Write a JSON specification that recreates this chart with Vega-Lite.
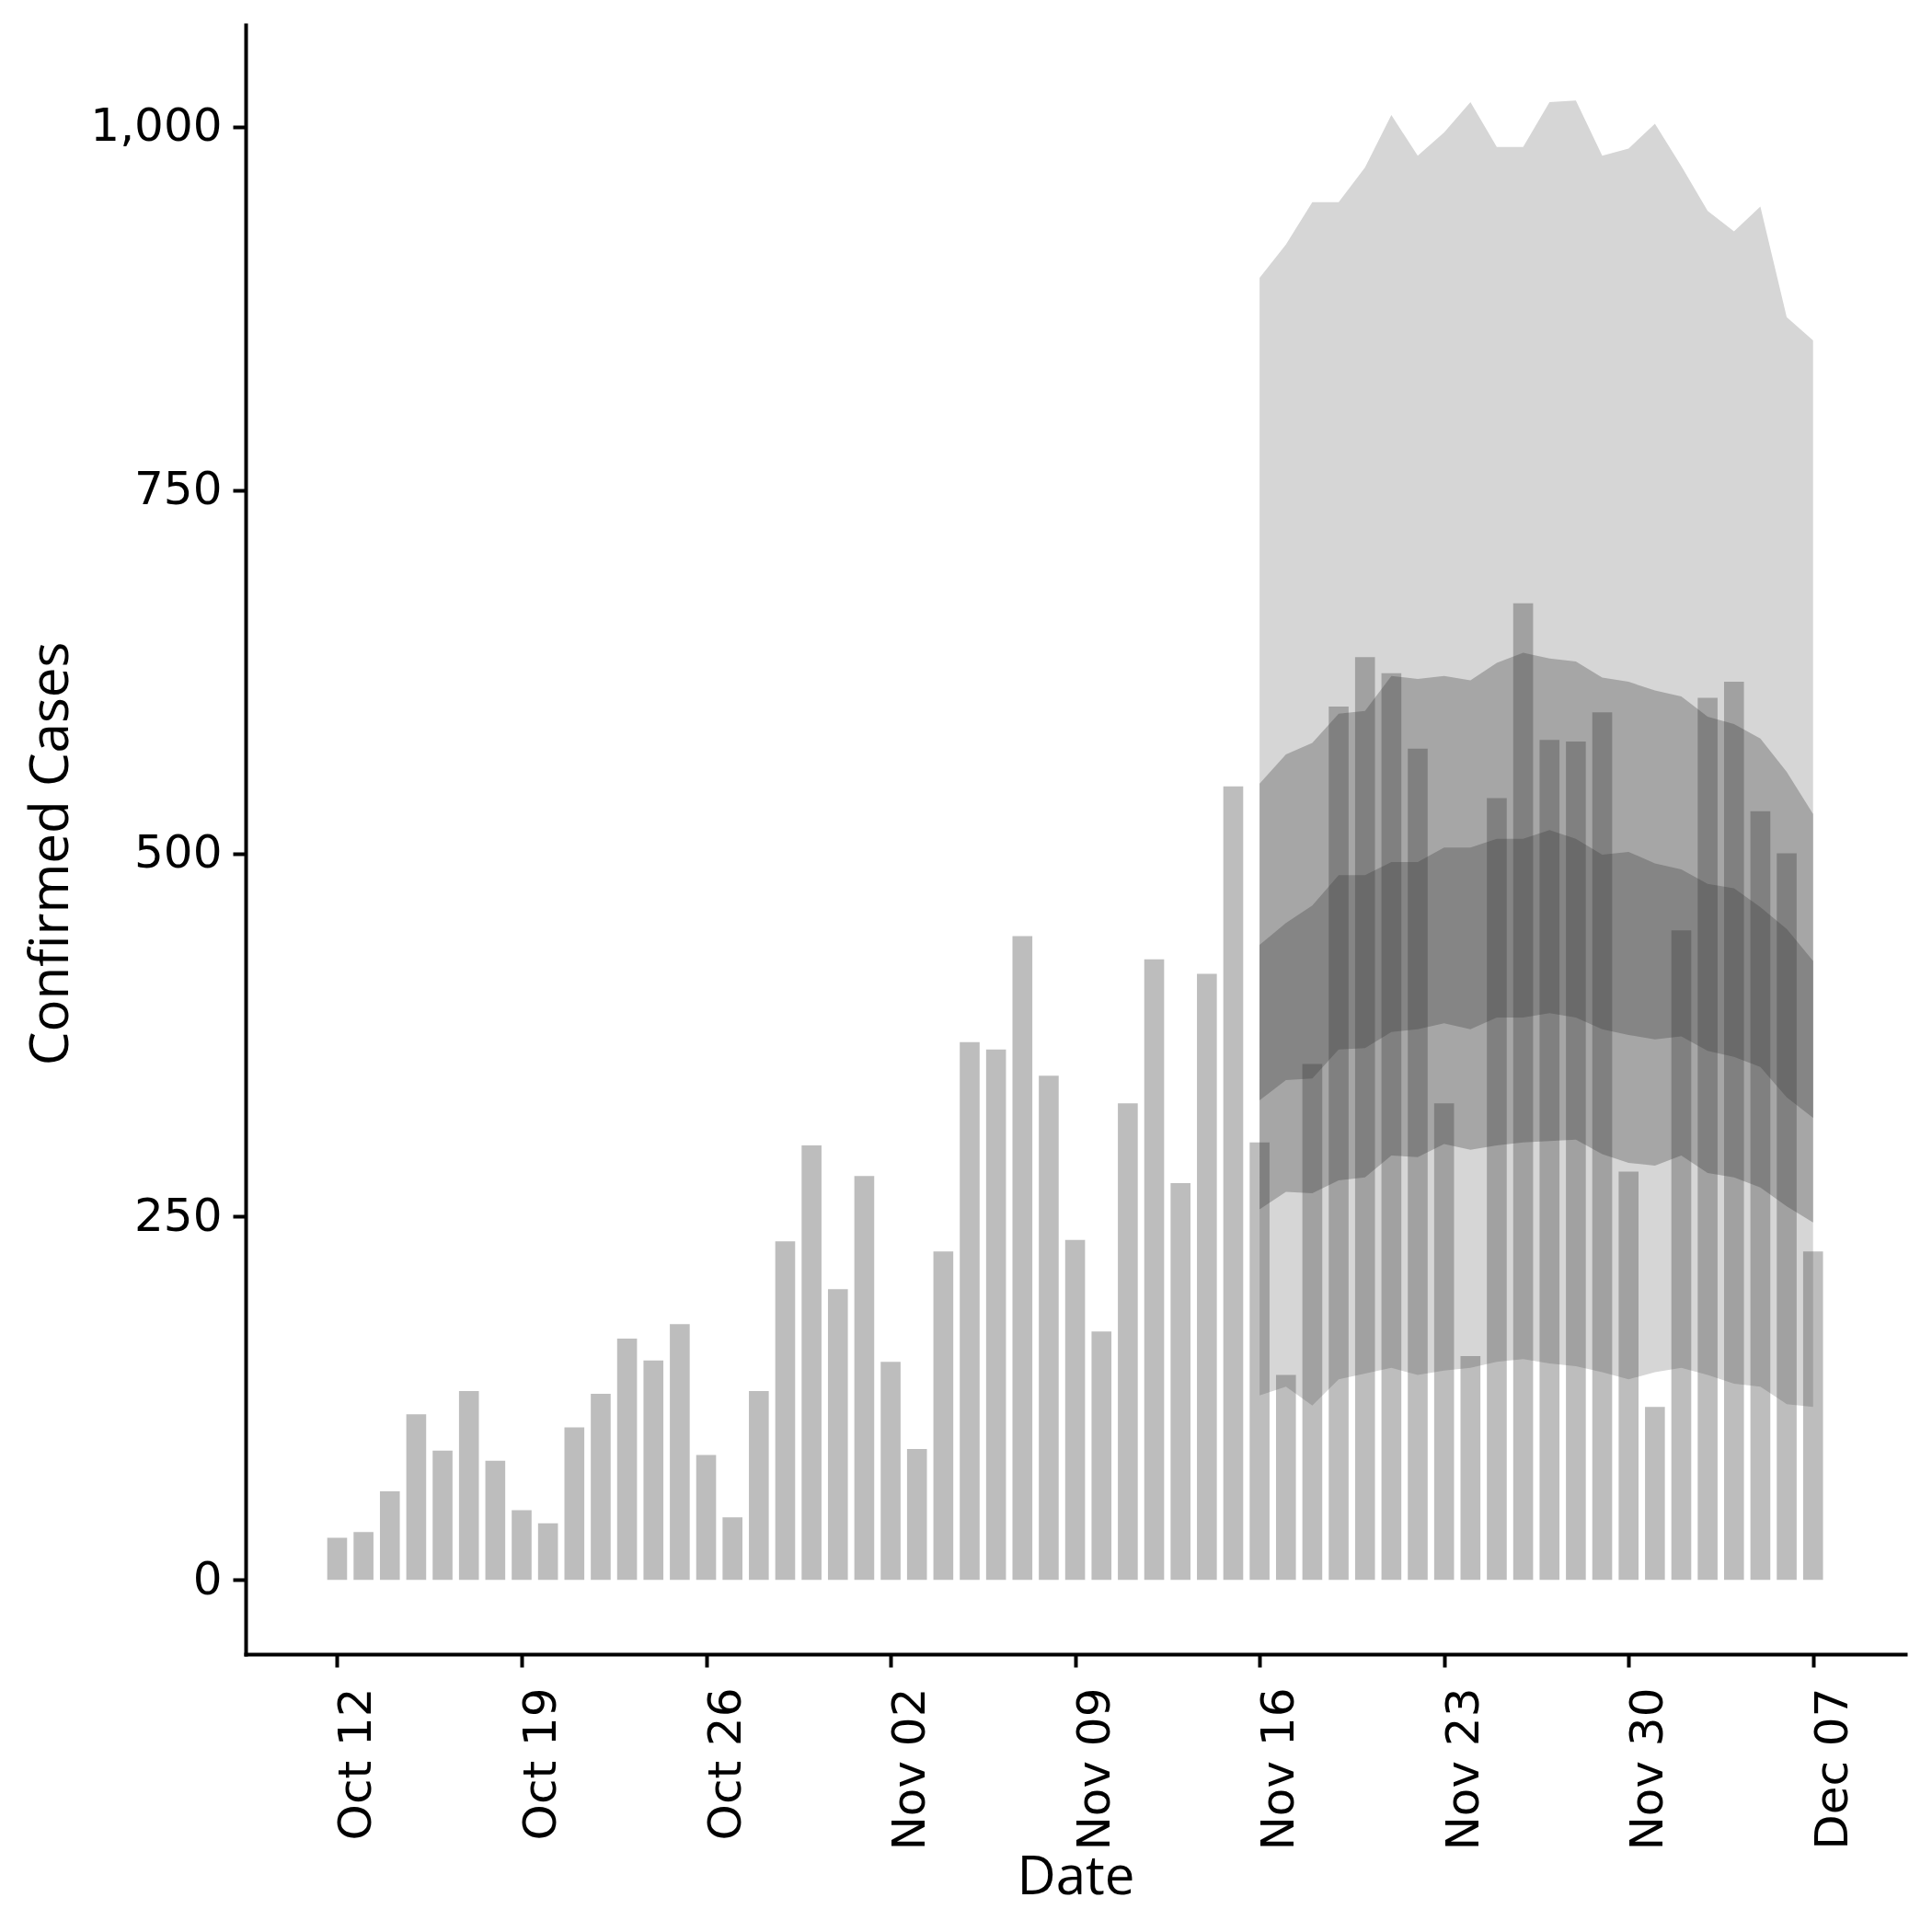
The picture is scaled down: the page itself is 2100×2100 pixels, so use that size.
{
  "$schema": "https://vega.github.io/schema/vega-lite/v6.json",
  "width": 1804,
  "height": 1771,
  "autosize": {"type": "none"},
  "padding": {"left": 267, "top": 27, "right": 29, "bottom": 302},
  "background": "white",
  "config": {
    "view": {"stroke": null},
    "axis": {
      "grid": false,
      "domainColor": "black",
      "domainWidth": 4,
      "domainCap": "square",
      "tickColor": "black",
      "tickWidth": 4,
      "tickSize": 14,
      "labelColor": "black",
      "labelFont": "DejaVu Sans",
      "labelFontSize": 50,
      "labelFlush": false,
      "labelOverlap": false,
      "labelLimit": 0,
      "titleColor": "black",
      "titleFont": "Open Sans",
      "titleFontSize": 58.3,
      "titleFontWeight": "normal"
    }
  },
  "datasets": {
    "cases": [
      {"date": "2020-10-12", "cases": 29},
      {"date": "2020-10-13", "cases": 33},
      {"date": "2020-10-14", "cases": 61},
      {"date": "2020-10-15", "cases": 114},
      {"date": "2020-10-16", "cases": 89},
      {"date": "2020-10-17", "cases": 130},
      {"date": "2020-10-18", "cases": 82},
      {"date": "2020-10-19", "cases": 48},
      {"date": "2020-10-20", "cases": 39},
      {"date": "2020-10-21", "cases": 105},
      {"date": "2020-10-22", "cases": 128},
      {"date": "2020-10-23", "cases": 166},
      {"date": "2020-10-24", "cases": 151},
      {"date": "2020-10-25", "cases": 176},
      {"date": "2020-10-26", "cases": 86},
      {"date": "2020-10-27", "cases": 43},
      {"date": "2020-10-28", "cases": 130},
      {"date": "2020-10-29", "cases": 233},
      {"date": "2020-10-30", "cases": 299},
      {"date": "2020-10-31", "cases": 200},
      {"date": "2020-11-01", "cases": 278},
      {"date": "2020-11-02", "cases": 150},
      {"date": "2020-11-03", "cases": 90},
      {"date": "2020-11-04", "cases": 226},
      {"date": "2020-11-05", "cases": 370},
      {"date": "2020-11-06", "cases": 365},
      {"date": "2020-11-07", "cases": 443},
      {"date": "2020-11-08", "cases": 347},
      {"date": "2020-11-09", "cases": 234},
      {"date": "2020-11-10", "cases": 171},
      {"date": "2020-11-11", "cases": 328},
      {"date": "2020-11-12", "cases": 427},
      {"date": "2020-11-13", "cases": 273},
      {"date": "2020-11-14", "cases": 417},
      {"date": "2020-11-15", "cases": 546},
      {"date": "2020-11-16", "cases": 301},
      {"date": "2020-11-17", "cases": 141},
      {"date": "2020-11-18", "cases": 355},
      {"date": "2020-11-19", "cases": 601},
      {"date": "2020-11-20", "cases": 635},
      {"date": "2020-11-21", "cases": 624},
      {"date": "2020-11-22", "cases": 572},
      {"date": "2020-11-23", "cases": 328},
      {"date": "2020-11-24", "cases": 154},
      {"date": "2020-11-25", "cases": 538},
      {"date": "2020-11-26", "cases": 672},
      {"date": "2020-11-27", "cases": 578},
      {"date": "2020-11-28", "cases": 577},
      {"date": "2020-11-29", "cases": 597},
      {"date": "2020-11-30", "cases": 281},
      {"date": "2020-12-01", "cases": 119},
      {"date": "2020-12-02", "cases": 447},
      {"date": "2020-12-03", "cases": 607},
      {"date": "2020-12-04", "cases": 618},
      {"date": "2020-12-05", "cases": 529},
      {"date": "2020-12-06", "cases": 500},
      {"date": "2020-12-07", "cases": 226}
    ],
    "bands": [
      {"date": "2020-11-16", "outer_lo": 127, "outer_hi": 896, "mid_lo": 255, "mid_hi": 548, "in_lo": 330, "in_hi": 437},
      {"date": "2020-11-17", "outer_lo": 133, "outer_hi": 919, "mid_lo": 267, "mid_hi": 568, "in_lo": 344, "in_hi": 452},
      {"date": "2020-11-18", "outer_lo": 120, "outer_hi": 948, "mid_lo": 266, "mid_hi": 576, "in_lo": 345, "in_hi": 464},
      {"date": "2020-11-19", "outer_lo": 138, "outer_hi": 948, "mid_lo": 275, "mid_hi": 596, "in_lo": 365, "in_hi": 485},
      {"date": "2020-11-20", "outer_lo": 142, "outer_hi": 972, "mid_lo": 277, "mid_hi": 598, "in_lo": 366, "in_hi": 485},
      {"date": "2020-11-21", "outer_lo": 146, "outer_hi": 1008, "mid_lo": 292, "mid_hi": 622, "in_lo": 377, "in_hi": 494},
      {"date": "2020-11-22", "outer_lo": 141, "outer_hi": 980, "mid_lo": 291, "mid_hi": 620, "in_lo": 379, "in_hi": 494},
      {"date": "2020-11-23", "outer_lo": 144, "outer_hi": 996, "mid_lo": 300, "mid_hi": 622, "in_lo": 383, "in_hi": 504},
      {"date": "2020-11-24", "outer_lo": 146, "outer_hi": 1017, "mid_lo": 296, "mid_hi": 619, "in_lo": 379, "in_hi": 504},
      {"date": "2020-11-25", "outer_lo": 150, "outer_hi": 986, "mid_lo": 299, "mid_hi": 631, "in_lo": 387, "in_hi": 510},
      {"date": "2020-11-26", "outer_lo": 152, "outer_hi": 986, "mid_lo": 301, "mid_hi": 638, "in_lo": 387, "in_hi": 510},
      {"date": "2020-11-27", "outer_lo": 149, "outer_hi": 1017, "mid_lo": 302, "mid_hi": 634, "in_lo": 390, "in_hi": 516},
      {"date": "2020-11-28", "outer_lo": 147, "outer_hi": 1018, "mid_lo": 303, "mid_hi": 632, "in_lo": 387, "in_hi": 510},
      {"date": "2020-11-29", "outer_lo": 143, "outer_hi": 980, "mid_lo": 293, "mid_hi": 621, "in_lo": 379, "in_hi": 499},
      {"date": "2020-11-30", "outer_lo": 138, "outer_hi": 985, "mid_lo": 287, "mid_hi": 618, "in_lo": 375, "in_hi": 501},
      {"date": "2020-12-01", "outer_lo": 143, "outer_hi": 1002, "mid_lo": 285, "mid_hi": 612, "in_lo": 372, "in_hi": 493},
      {"date": "2020-12-02", "outer_lo": 146, "outer_hi": 973, "mid_lo": 292, "mid_hi": 608, "in_lo": 374, "in_hi": 489},
      {"date": "2020-12-03", "outer_lo": 141, "outer_hi": 942, "mid_lo": 280, "mid_hi": 594, "in_lo": 364, "in_hi": 479},
      {"date": "2020-12-04", "outer_lo": 135, "outer_hi": 928, "mid_lo": 277, "mid_hi": 589, "in_lo": 360, "in_hi": 476},
      {"date": "2020-12-05", "outer_lo": 133, "outer_hi": 945, "mid_lo": 270, "mid_hi": 579, "in_lo": 353, "in_hi": 463},
      {"date": "2020-12-06", "outer_lo": 121, "outer_hi": 869, "mid_lo": 257, "mid_hi": 556, "in_lo": 332, "in_hi": 448},
      {"date": "2020-12-07", "outer_lo": 119, "outer_hi": 853, "mid_lo": 246, "mid_hi": 527, "in_lo": 318, "in_hi": 426}
    ]
  },
  "encoding": {
    "x": {
      "field": "date",
      "type": "temporal",
      "scale": {
        "type": "utc",
        "domain": [
          {"year": 2020, "month": 10, "date": 8, "hours": 16, "minutes": 51, "utc": true},
          {"year": 2020, "month": 12, "date": 10, "hours": 7, "minutes": 49, "utc": true}
        ]
      },
      "axis": {
        "title": "Date",
        "values": [
          {"year": 2020, "month": 10, "date": 12, "utc": true},
          {"year": 2020, "month": 10, "date": 19, "utc": true},
          {"year": 2020, "month": 10, "date": 26, "utc": true},
          {"year": 2020, "month": 11, "date": 2, "utc": true},
          {"year": 2020, "month": 11, "date": 9, "utc": true},
          {"year": 2020, "month": 11, "date": 16, "utc": true},
          {"year": 2020, "month": 11, "date": 23, "utc": true},
          {"year": 2020, "month": 11, "date": 30, "utc": true},
          {"year": 2020, "month": 12, "date": 7, "utc": true}
        ],
        "labelExpr": "utcFormat(datum.value, '%b %d')",
        "labelAngle": -90,
        "labelAlign": "right",
        "labelBaseline": "top",
        "labelPadding": 22,
        "labelOffset": -3.5,
        "titleY": 260.5,
        "titleBaseline": "alphabetic"
      }
    }
  },
  "layer": [
    {
      "data": {"name": "bands"},
      "mark": {"type": "area", "color": "#d6d6d6", "opacity": 1},
      "encoding": {
        "y": {
          "field": "outer_lo",
          "type": "quantitative",
          "scale": {"domain": [-51.1, 1070.1], "nice": false, "zero": false},
          "axis": {
            "title": "Confirmed Cases",
            "values": [0, 250, 500, 750, 1000],
            "labelExpr": "format(datum.value, ',')",
            "labelPadding": 12,
            "titleX": -194,
            "titleY": 900.5,
            "titleBaseline": "alphabetic"
          }
        },
        "y2": {"field": "outer_hi"}
      }
    },
    {
      "data": {"name": "bands"},
      "mark": {"type": "area", "color": "#a6a6a6", "opacity": 1},
      "encoding": {
        "y": {
          "field": "mid_lo",
          "type": "quantitative",
          "axis": {
            "title": "Confirmed Cases",
            "values": [0, 250, 500, 750, 1000],
            "labelExpr": "format(datum.value, ',')",
            "labelPadding": 12,
            "titleX": -194,
            "titleY": 900.5,
            "titleBaseline": "alphabetic"
          }
        },
        "y2": {"field": "mid_hi"}
      }
    },
    {
      "data": {"name": "bands"},
      "mark": {"type": "area", "color": "#858585", "opacity": 1},
      "encoding": {
        "y": {
          "field": "in_lo",
          "type": "quantitative",
          "axis": {
            "title": "Confirmed Cases",
            "values": [0, 250, 500, 750, 1000],
            "labelExpr": "format(datum.value, ',')",
            "labelPadding": 12,
            "titleX": -194,
            "titleY": 900.5,
            "titleBaseline": "alphabetic"
          }
        },
        "y2": {"field": "in_hi"}
      }
    },
    {
      "data": {"name": "cases"},
      "mark": {"type": "bar", "width": 21.6, "color": "#323232", "opacity": 0.32},
      "encoding": {
        "y": {
          "field": "cases",
          "type": "quantitative",
          "axis": {
            "title": "Confirmed Cases",
            "values": [0, 250, 500, 750, 1000],
            "labelExpr": "format(datum.value, ',')",
            "labelPadding": 12,
            "titleX": -194,
            "titleY": 900.5,
            "titleBaseline": "alphabetic"
          }
        }
      }
    }
  ]
}
